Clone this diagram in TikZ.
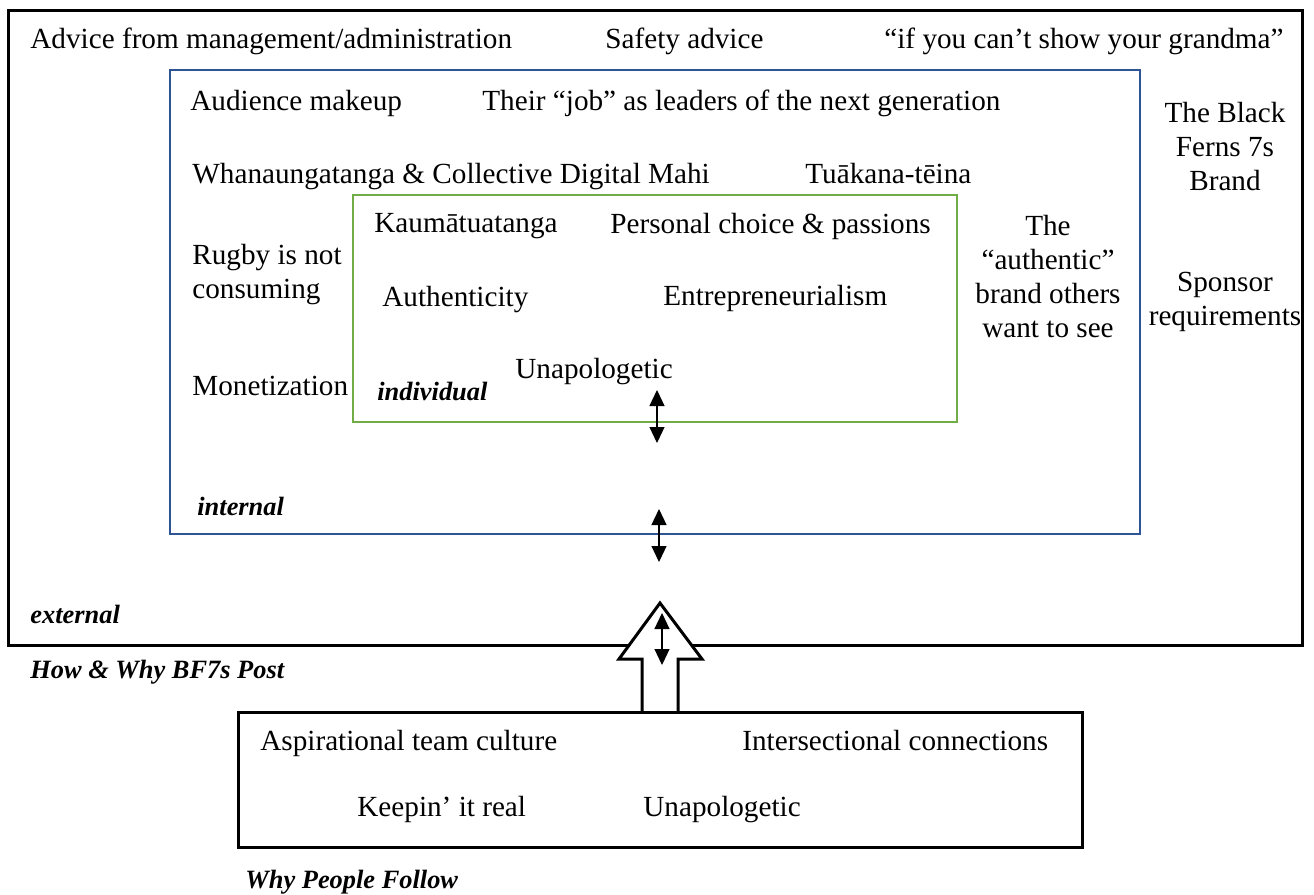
\documentclass[tikz,border=0pt]{standalone}
\usepackage{fontspec}
\setmainfont{Liberation Serif}
\usetikzlibrary{arrows.meta}
\definecolor{framblue}{RGB}{47,84,150}
\definecolor{framgreen}{RGB}{112,173,71}
\begin{document}
\begin{tikzpicture}[x=0.5pt,y=-0.5pt,
  txt/.style={anchor=base west,inner sep=0pt,font=\fontsize{14.6}{17}\selectfont},
  ctxt/.style={anchor=base,inner sep=0pt,align=center,font=\fontsize{14.6}{17}\selectfont},
  ltxt/.style={anchor=base west,inner sep=0pt,align=left,font=\fontsize{14.6}{17}\selectfont},
  lbl/.style={anchor=base west,inner sep=0pt,font=\fontsize{13.2}{16}\selectfont\bfseries\itshape},
  outerbox/.style={draw=black,line width=1.5pt},
  innerbox/.style={draw=framblue,line width=1pt},
  corebox/.style={draw=framgreen,line width=1.25pt},
  twoway/.style={{Triangle[width=7.5pt,length=8pt]}-{Triangle[width=7.5pt,length=8pt]},line width=0.6pt},
  bigarrow/.style={draw=black,fill=white,line width=1.5pt,line join=miter}]
\useasboundingbox (0,0) rectangle (1314,895);

% nested frames
\draw[outerbox] (8,10) rectangle (1302,645);
\draw[innerbox] (170,70) rectangle (1140,534);
\draw[corebox] (353,195) rectangle (957,422);

% external layer (multi-line nodes sit on their last baseline)
\node[txt] (mgmt) at (30,48) {Advice from management/administration};
\node[txt] (safety) at (605,48) {Safety advice};
\node[txt] (grandma) at (884,48) {“if you can’t show your grandma”};
\node[ctxt] (brand) at (1225,190) {The Black\\Ferns 7s\\Brand};
\node[ctxt] (sponsor) at (1225,325) {Sponsor\\requirements};
\node[lbl] (external) at (30,623) {external};

% internal layer
\node[txt] (audience) at (190,110) {Audience makeup};
\node[txt] (job) at (482,110) {Their “job” as leaders of the next generation};
\node[txt] (whanau) at (192,183) {Whanaungatanga \& Collective Digital Mahi};
\node[txt] (tuakana) at (805,183) {Tuākana-tēina};
\node[ltxt] (rugby) at (192,298) {Rugby is not\\consuming};
\node[txt] (money) at (192,395) {Monetization};
\node[ctxt] (authbrand) at (1048,337) {The\\“authentic”\\brand others\\want to see};
\node[lbl] (internal) at (197,515) {internal};

% individual layer
\node[txt] (kaum) at (374,232) {Kaumātuatanga};
\node[txt] (choice) at (610,233) {Personal choice \& passions};
\node[txt] (authentic) at (382,306) {Authenticity};
\node[txt] (entre) at (663,305) {Entrepreneurialism};
\node[txt] (unapol) at (515,378) {Unapologetic};
\node[lbl] (individual) at (377,400) {individual};

% exchanges between layers
\coordinate (a1) at (657,390);
\coordinate (b1) at (657,443);
\coordinate (a2) at (659,509);
\coordinate (b2) at (659,562);
\draw[twoway] (a1) -- (b1);
\draw[twoway] (a2) -- (b2);

% followers feeding the posts
\node[lbl] (howwhy) at (30,678) {How \& Why BF7s Post};
\draw[bigarrow] (642,712) -- (642,659) -- (619,659) -- (660,603) -- (702,659) -- (678,659) -- (678,712);
\coordinate (a3) at (662,613);
\coordinate (b3) at (662,665);
\draw[twoway] (a3) -- (b3);
\draw[outerbox] (238,712) rectangle (1082,847);
\node[txt] (aspire) at (260,750) {Aspirational team culture};
\node[txt] (inter) at (742,750) {Intersectional connections};
\node[txt] (real) at (357,816) {Keepin’ it real};
\node[txt] (unapol2) at (643,816) {Unapologetic};
\node[lbl] (follow) at (245,888) {Why People Follow};
\end{tikzpicture}
\end{document}
